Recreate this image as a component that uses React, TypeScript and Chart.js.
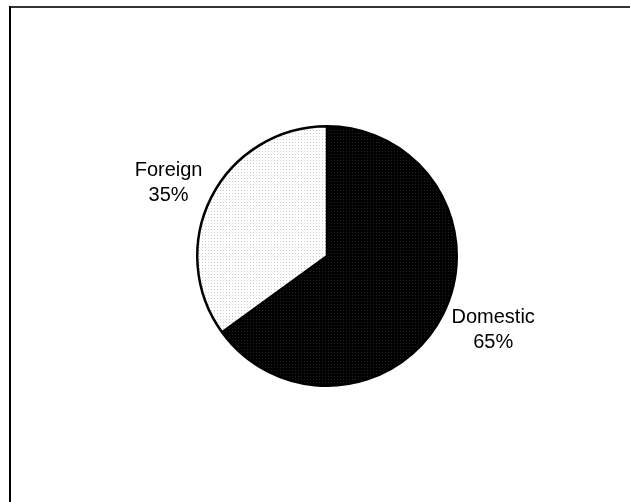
import React, { useEffect, useRef } from "react";
import { Chart, registerables } from "chart.js";

Chart.register(...registerables);

const categories = ["Domestic", "Foreign"];
const shares = [65, 35];

function makePattern(bg: string, dot: string): CanvasPattern | string {
  const c = document.createElement("canvas");
  c.width = 3;
  c.height = 3;
  const ctx = c.getContext("2d");
  if (!ctx) return bg;
  ctx.fillStyle = bg;
  ctx.fillRect(0, 0, 3, 3);
  ctx.fillStyle = dot;
  ctx.fillRect(1, 1, 1, 1);
  const p = ctx.createPattern(c, "repeat");
  return p || bg;
}

const framePlugin = {
  id: "frame",
  beforeDraw(chart: any) {
    const ctx = chart.ctx;
    ctx.save();
    ctx.fillStyle = "#ffffff";
    ctx.fillRect(0, 0, chart.width, chart.height);
    ctx.fillStyle = "#333333";
    ctx.fillRect(9, 6, chart.width - 9, 2);
    ctx.fillStyle = "#000000";
    ctx.fillRect(9, 6, 2, chart.height - 6);
    ctx.restore();
  },
};

const labelPlugin = {
  id: "sliceLabels",
  afterDraw(chart: any) {
    const ctx = chart.ctx;
    const meta = chart.getDatasetMeta(0);
    const total = shares.reduce((a, b) => a + b, 0);
    ctx.save();
    ctx.font = '20px "Liberation Sans", Arial, sans-serif';
    ctx.fillStyle = "#000000";
    ctx.textAlign = "center";
    ctx.textBaseline = "middle";
    meta.data.forEach((arc: any, i: number) => {
      const { x, y, startAngle, endAngle, outerRadius } = arc.getProps(
        ["x", "y", "startAngle", "endAngle", "outerRadius"],
        true
      );
      const mid = (startAngle + endAngle) / 2;
      const r = outerRadius + 10;
      const px = x + Math.cos(mid) * r;
      const py = y + Math.sin(mid) * r;
      const line1 = categories[i];
      const line2 = Math.round((shares[i] / total) * 100) + "%";
      const w = Math.max(ctx.measureText(line1).width, ctx.measureText(line2).width);
      const h = 46;
      const cx = px + (Math.cos(mid) >= 0 ? w / 2 : -w / 2);
      const cy = py + (h / 2) * Math.sin(mid);
      ctx.fillText(line1, cx, cy - 12);
      ctx.fillText(line2, cx, cy + 13);
    });
    ctx.restore();
  },
};

export default function App() {
  const ref = useRef<HTMLCanvasElement | null>(null);
  useEffect(() => {
    document.body.style.margin = "0";
    if (!ref.current) return;
    const chart = new Chart(ref.current, {
      type: "pie",
      data: {
        labels: categories,
        datasets: [
          {
            data: shares,
            backgroundColor: [
              makePattern("#000000", "#222222"),
              makePattern("#ffffff", "#cccccc"),
            ],
            borderColor: "#000000",
            borderWidth: 2.5,
          },
        ],
      },
      options: {
        responsive: false,
        animation: false,
        layout: { padding: { left: 100, right: 76, top: 125, bottom: 115 } },
        plugins: {
          legend: { display: false },
          tooltip: { enabled: false },
        },
      },
      plugins: [framePlugin, labelPlugin],
    });
    return () => chart.destroy();
  }, []);
  return (
    <div style={{ position: "absolute", left: 0, top: 0, width: 630, height: 502 }}>
      <canvas ref={ref} width={630} height={502} />
    </div>
  );
}
